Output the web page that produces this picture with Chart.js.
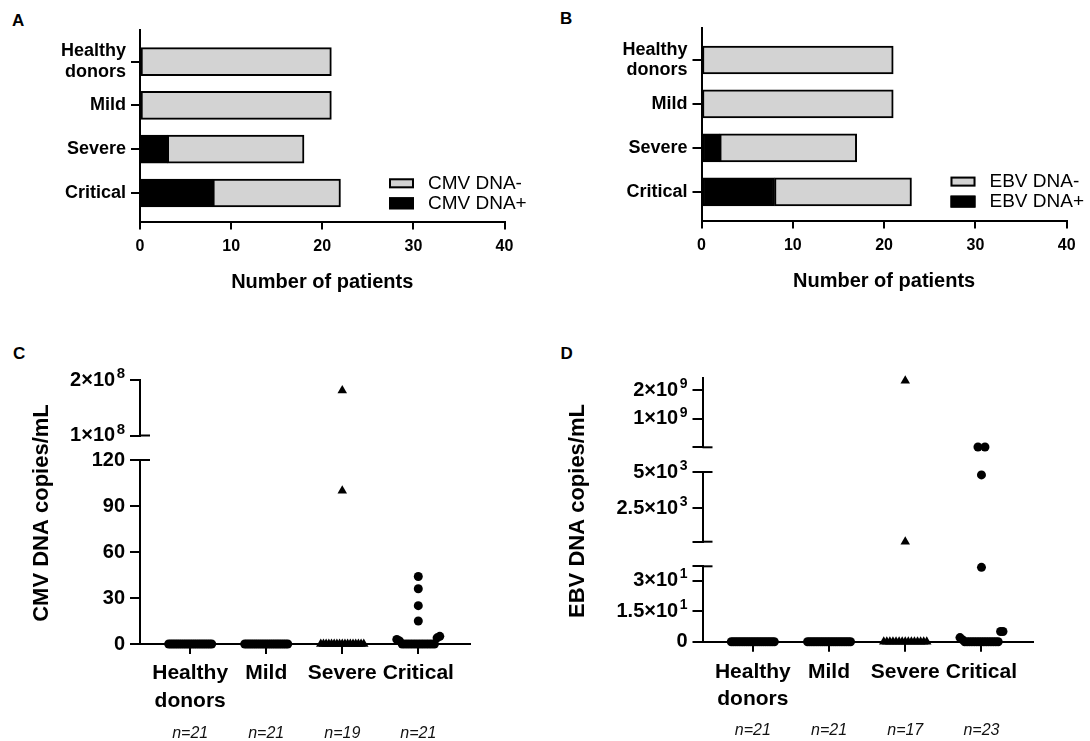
<!DOCTYPE html>
<html>
<head>
<meta charset="utf-8">
<script src="https://cdn.jsdelivr.net/npm/chart.js@4/dist/chart.umd.min.js"></script>
<style>
html,body{margin:0;padding:0;background:#fff;}
#fig{position:relative;width:1090px;height:741px;overflow:hidden;background:#fff;}
#fig canvas{position:absolute;}
.plbl{position:absolute;font:bold 17px 'Liberation Sans',Arial,sans-serif;color:#000;line-height:17px;}
</style>
</head>
<body>
<div id="fig">
  <div class="plbl" style="left:12px;top:11.5px">A</div>
  <div class="plbl" style="left:560px;top:10.3px">B</div>
  <div class="plbl" style="left:13px;top:344.5px">C</div>
  <div class="plbl" style="left:560.5px;top:345px">D</div>
</div>
<script>
// ---------------- DATA ----------------
// Panels A and B (stacked horizontal bars)
const barCategories = [['Healthy', 'donors'], 'Mild', 'Severe', 'Critical'];
const cmvPositive = [0, 0, 3, 8];
const cmvNegative = [21, 21, 15, 14];
const ebvPositive = [0, 0, 2, 8];
const ebvNegative = [21, 21, 15, 15];
const countTicks = [0, 10, 20, 30, 40];
const cmvLegend = ['CMV DNA-', 'CMV DNA+'];
const ebvLegend = ['EBV DNA-', 'EBV DNA+'];

// Panels C and D (scatter dot plots with broken y axes)
const groupLabels = [['Healthy', 'donors'], 'Mild', 'Severe', 'Critical'];
const groupMarkers = ['circle', 'circle', 'triangle', 'circle'];

const cmvHealthy  = [0,0,0,0,0,0,0,0,0,0,0,0,0,0,0,0,0,0,0,0,0];
const cmvMild     = [0,0,0,0,0,0,0,0,0,0,0,0,0,0,0,0,0,0,0,0,0];
const cmvSevere   = [181000000, 100, 0,0,0,0,0,0,0,0,0,0,0,0,0,0,0,0,0];
const cmvCritical = [44, 36, 25, 15, 3, 2, 0,0,0,0,0,0,0,0,0,0,0,0,0, 4, 5];
const cmvCounts   = ['n=21', 'n=21', 'n=19', 'n=21'];

const ebvHealthy  = [0,0,0,0,0,0,0,0,0,0,0,0,0,0,0,0,0,0,0,0,0];
const ebvMild     = [0,0,0,0,0,0,0,0,0,0,0,0,0,0,0,0,0,0,0,0,0];
const ebvSevere   = [2330000000, 200, 0,0,0,0,0,0,0,0,0,0,0,0,0,0,0];
const ebvCritical = [10000000, 10000000, 4800, 36.5, 2, 1, 0,0,0,0,0,0,0,0,0,0,0,0,0,0,0, 5, 5];
const ebvCounts   = ['n=21', 'n=21', 'n=17', 'n=23'];

// y-axis segments (tick values and tick labels; "^" marks an exponent)
const cmvTopTicks = [100000000, 200000000];
const cmvTopLabels = ['1×10^8', '2×10^8'];
const cmvLowTicks = [0, 30, 60, 90, 120];
const cmvLowLabels = ['0', '30', '60', '90', '120'];

const ebvTopTicks = [0, 1000000000, 2000000000];
const ebvTopLabels = ['', '1×10^9', '2×10^9'];
const ebvMidTicks = [200, 2500, 5000];
const ebvMidLabels = ['', '2.5×10^3', '5×10^3'];
const ebvLowTicks = [0, 15, 30, 37];
const ebvLowLabels = ['0', '1.5×10^1', '3×10^1', ''];

// ---------------- STYLE / LAYOUT ----------------
const FONT = "'Liberation Sans', Arial, Helvetica, sans-serif";
Chart.defaults.font.family = FONT;
Chart.defaults.color = '#000';
Chart.defaults.animation = false;

const GRAY = '#d3d3d3';
const fig = document.getElementById('fig');

function makeCanvas(left, top, w, h) {
  const c = document.createElement('canvas');
  c.width = w; c.height = h;
  c.style.left = left + 'px'; c.style.top = top + 'px';
  c.style.width = w + 'px'; c.style.height = h + 'px';
  fig.appendChild(c);
  return c;
}

const boxLegend = {
  id: 'boxLegend',
  afterDraw(chart, args, o) {
    const {ctx, chartArea} = chart;
    const x0 = chartArea.left + o.dx;
    ctx.save();
    o.items.forEach((it, k) => {
      const cy = chartArea.top + o.dy + k * o.gap;
      const h = it.h;
      ctx.fillStyle = it.fill;
      ctx.fillRect(x0, cy - h / 2, 25, h);
      ctx.strokeStyle = '#000';
      ctx.lineWidth = 2;
      ctx.strokeRect(x0 + 1, cy - h / 2 + 1, 23, h - 2);
      ctx.fillStyle = '#000';
      ctx.font = '19px ' + FONT;
      ctx.textAlign = 'left';
      ctx.textBaseline = 'middle';
      ctx.fillText(it.text, x0 + 39, cy);
    });
    ctx.restore();
  }
};

function barChart(cfg) {
  const cv = makeCanvas(cfg.left, 0, 545, 300);
  const plotLeft = cfg.axisX - cfg.left;
  const plotRight = cfg.axisEnd - cfg.left;
  new Chart(cv, {
    type: 'bar',
    data: {
      datasets: [
        {label: cfg.legend[1], data: barCategories.map((c, i) => ({x: cfg.pos[i], y: i})),
         backgroundColor: '#000', borderColor: '#000', borderWidth: 2, borderSkipped: false, barThickness: 28},
        {label: cfg.legend[0], data: barCategories.map((c, i) => ({x: cfg.neg[i], y: i})),
         backgroundColor: GRAY, borderColor: '#000', borderWidth: 2, borderSkipped: false, barThickness: 28}
      ]
    },
    options: {
      indexAxis: 'y', responsive: false, animation: false, devicePixelRatio: 1, events: [],
      layout: {padding: {left: 0, top: cfg.top, right: 545 - plotRight, bottom: 0}},
      plugins: {
        legend: {display: false}, tooltip: {enabled: false},
        boxLegend: {dx: 249, dy: 153.3, gap: 20, items: [
          {text: cfg.legend[0], fill: GRAY, h: 10},
          {text: cfg.legend[1], fill: '#000', h: 12}
        ]}
      },
      scales: {
        x: {
          type: 'linear', min: 0, max: 40, stacked: true,
          afterBuildTicks: s => { s.ticks = countTicks.map(v => ({value: v})); },
          border: {color: '#000', width: 2},
          grid: {drawOnChartArea: false, color: '#000', lineWidth: 2, tickLength: 8},
          ticks: {font: {size: 16, weight: 'bold'}, padding: 7, color: '#000', maxRotation: 0, autoSkip: false},
          title: {display: true, text: 'Number of patients', color: '#000',
                  font: {size: 20, weight: 'bold'}, padding: {top: 0, bottom: cfg.titlePad}},
          afterFit: s => { s.height = 300 - cfg.bottom; }
        },
        y: {
          type: 'linear', reverse: true, min: -0.72, max: 3.65, stacked: true, offset: false,
          afterBuildTicks: s => { s.ticks = barCategories.map((c, i) => ({value: i})); },
          border: {color: '#000', width: 2},
          grid: {drawOnChartArea: false, offset: false, color: '#000', lineWidth: 2, tickLength: 9},
          ticks: {callback: v => barCategories[v], font: {size: 18, weight: 'bold', lineHeight: 1.12},
                  padding: 5, color: '#000', autoSkip: false},
          afterFit: s => { s.width = plotLeft; }
        }
      }
    },
    plugins: [boxLegend]
  });
}

barChart({left: 0, axisX: 140, axisEnd: 504.5, top: 30, bottom: 221.5, titlePad: 6,
          pos: cmvPositive, neg: cmvNegative, legend: cmvLegend});
barChart({left: 545, axisX: 701.5, axisEnd: 1066.7, top: 28.3, bottom: 220.5, titlePad: 7,
          pos: ebvPositive, neg: ebvNegative, legend: ebvLegend});

// ---------- scatter panels ----------
const X_MIN = -0.66, X_MAX = 3.68;
const ROW_WIDTH = 43;  // px span of centres of a row of equal values
const PAIR_STEP = 7;   // px between equal-valued points outside the base row

function spreadGroup(values, rowMax, pxPerUnit) {
  const xs = values.map(() => 0);
  const row = [];
  values.forEach((v, i) => { if (v <= rowMax) row.push(i); });
  const n = row.length;
  const step = n > 1 ? Math.min(PAIR_STEP, ROW_WIDTH / (n - 1)) : 0;
  row.forEach((idx, k) => { xs[idx] = (k - (n - 1) / 2) * step / pxPerUnit; });
  const others = [];
  values.forEach((v, i) => { if (v > rowMax) others.push(i); });
  const done = new Set();
  others.forEach(i => {
    if (done.has(i)) return;
    const cl = others.filter(j => !done.has(j) && Math.abs(values[j] - values[i]) <= Math.abs(values[i]) * 0.02);
    cl.forEach((j, k) => { xs[j] = (k - (cl.length - 1) / 2) * PAIR_STEP / pxPerUnit; done.add(j); });
  });
  return xs;
}

const capsPlugin = {
  id: 'axisCaps',
  afterDraw(chart, args, o) {
    const {ctx, chartArea} = chart;
    const ys = chart.scales.y;
    ctx.save();
    ctx.strokeStyle = '#000'; ctx.lineWidth = 2; ctx.lineCap = 'butt';
    o.values.forEach(v => {
      const py = ys.getPixelForValue(v);
      ctx.beginPath(); ctx.moveTo(chartArea.left, py); ctx.lineTo(chartArea.left + 10, py); ctx.stroke();
    });
    ctx.restore();
  }
};

// y tick labels with proper raised exponents, placed at the scale's tick pixels
const sciTicksPlugin = {
  id: 'sciTicks',
  afterDraw(chart, args, o) {
    const {ctx, chartArea} = chart;
    const ys = chart.scales.y;
    const xr = chartArea.left - 10 - 5;
    ctx.save();
    ctx.fillStyle = '#000';
    ctx.textBaseline = 'middle';
    ctx.textAlign = 'right';
    ys.ticks.forEach((t, i) => {
      const lab = o.labels[i];
      if (!lab) return;
      const py = ys.getPixelForValue(t.value);
      const parts = lab.split('^');
      let x = xr;
      if (parts.length > 1) {
        ctx.font = 'bold ' + o.expSize + 'px ' + FONT;
        ctx.fillText(parts[1], x, py - o.expRaise);
        x -= ctx.measureText(parts[1]).width + 1.5;
      }
      ctx.font = 'bold ' + o.size + 'px ' + FONT;
      ctx.fillText(parts[0], x, py);
    });
    ctx.restore();
  }
};

const countsPlugin = {
  id: 'groupCounts',
  afterDraw(chart, args, o) {
    const {ctx} = chart;
    const xs = chart.scales.x;
    ctx.save();
    ctx.font = 'italic 16px ' + FONT;
    ctx.fillStyle = '#111';
    ctx.textAlign = 'center'; ctx.textBaseline = 'middle';
    o.labels.forEach((t, i) => ctx.fillText(t, xs.getPixelForValue(i), o.y));
    ctx.restore();
  }
};

const yTitlePlugin = {
  id: 'sideTitle',
  afterDraw(chart, args, o) {
    const {ctx} = chart;
    ctx.save();
    ctx.translate(o.x, o.y);
    ctx.rotate(-Math.PI / 2);
    ctx.font = 'bold 22px ' + FONT;
    ctx.fillStyle = '#000';
    ctx.textAlign = 'center'; ctx.textBaseline = 'middle';
    ctx.fillText(o.text, 0, 0);
    ctx.restore();
  }
};

function scatterPanel(p) {
  const plotLeft = p.axisX - p.left;
  const plotRight = p.axisEnd - p.left;
  const pxPerUnit = (plotRight - plotLeft) / (X_MAX - X_MIN);
  const offsets = p.groups.map(vals => spreadGroup(vals, p.rowMax, pxPerUnit));
  p.segments.forEach(seg => {
    const cv = makeCanvas(p.left, seg.canvasTop, 545, seg.canvasH);
    const datasets = p.groups.map((vals, g) => ({
      data: vals.map((v, i) => ({x: g + offsets[g][i], y: v})).filter(pt => pt.y > seg.lo && pt.y <= seg.hi),
      pointStyle: groupMarkers[g],
      pointRadius: groupMarkers[g] === 'triangle' ? 5.5 : 4.5,
      pointHoverRadius: groupMarkers[g] === 'triangle' ? 5.5 : 4.5,
      backgroundColor: '#000', borderColor: '#000', borderWidth: 0, clip: false
    }));
    const areaTopRel = seg.areaTop - seg.canvasTop;
    const areaBottomRel = seg.areaBottom - seg.canvasTop;
    new Chart(cv, {
      type: 'scatter',
      data: {datasets},
      options: {
        responsive: false, animation: false, devicePixelRatio: 1, events: [],
        layout: {padding: {left: 0, right: 545 - plotRight, top: areaTopRel,
                           bottom: seg.showX ? 0 : seg.canvasH - areaBottomRel}},
        plugins: {
          legend: {display: false}, tooltip: {enabled: false},
          axisCaps: {values: seg.caps},
          sciTicks: {labels: seg.labels, size: p.tickSize, expSize: p.expSize, expRaise: p.expRaise},
          groupCounts: seg.showX ? {labels: p.counts, y: p.countsY - seg.canvasTop} : false,
          sideTitle: seg.showX ? {text: p.title, x: p.titleX - p.left, y: p.titleY - seg.canvasTop} : false
        },
        scales: {
          x: {
            type: 'linear', min: X_MIN, max: X_MAX, display: seg.showX,
            afterBuildTicks: s => { s.ticks = groupLabels.map((c, i) => ({value: i})); },
            border: {color: '#000', width: 2},
            grid: {drawOnChartArea: false, color: '#000', lineWidth: 2, tickLength: 10},
            ticks: {callback: v => groupLabels[v], font: {size: 21, weight: 'bold', lineHeight: 1.3},
                    padding: p.xPad, color: '#000', maxRotation: 0, minRotation: 0, autoSkip: false},
            afterFit: s => { if (seg.showX) s.height = seg.canvasH - areaBottomRel; }
          },
          y: {
            type: 'linear', min: seg.min, max: seg.max,
            afterBuildTicks: s => { s.ticks = seg.ticks.map(v => ({value: v})); },
            border: {color: '#000', width: 2},
            grid: {drawOnChartArea: false, color: '#000', lineWidth: 2, tickLength: 10},
            ticks: {display: false, autoSkip: false},
            afterFit: s => { s.width = plotLeft; }
          }
        }
      },
      plugins: [capsPlugin, sciTicksPlugin, countsPlugin, yTitlePlugin]
    });
  });
}

scatterPanel({
  left: 0, axisX: 140, axisEnd: 470, rowMax: 6, xPad: 6,
  tickSize: 20, expSize: 15, expRaise: 6,
  groups: [cmvHealthy, cmvMild, cmvSevere, cmvCritical],
  counts: cmvCounts, countsY: 734,
  title: 'CMV DNA copies/mL', titleX: 42, titleY: 513,
  segments: [
    {canvasTop: 330, canvasH: 411, areaTop: 460, areaBottom: 644, showX: true,
     min: 0, max: 120, lo: -Infinity, hi: 1000000, ticks: cmvLowTicks, labels: cmvLowLabels, caps: [120]},
    {canvasTop: 330, canvasH: 130, areaTop: 380, areaBottom: 435.5, showX: false,
     min: 100000000, max: 200000000, lo: 1000000, hi: Infinity, ticks: cmvTopTicks, labels: cmvTopLabels, caps: [100000000]}
  ]
});

scatterPanel({
  left: 545, axisX: 702.5, axisEnd: 1033.3, rowMax: 6, xPad: 7,
  tickSize: 20, expSize: 14, expRaise: 6,
  groups: [ebvHealthy, ebvMild, ebvSevere, ebvCritical],
  counts: ebvCounts, countsY: 731,
  title: 'EBV DNA copies/mL', titleX: 578, titleY: 511,
  segments: [
    {canvasTop: 330, canvasH: 411, areaTop: 566.3, areaBottom: 641.7, showX: true,
     min: 0, max: 37, lo: -Infinity, hi: 100, ticks: ebvLowTicks, labels: ebvLowLabels, caps: [37]},
    {canvasTop: 330, canvasH: 230, areaTop: 472, areaBottom: 541.7, showX: false,
     min: 200, max: 5000, lo: 100, hi: 5000, ticks: ebvMidTicks, labels: ebvMidLabels, caps: [200, 5000]},
    {canvasTop: 330, canvasH: 130, areaTop: 377.8, areaBottom: 447.3, showX: false,
     min: 0, max: 2430000000, lo: 5000, hi: Infinity, ticks: ebvTopTicks, labels: ebvTopLabels, caps: [0]}
  ]
});
</script>
</body>
</html>
